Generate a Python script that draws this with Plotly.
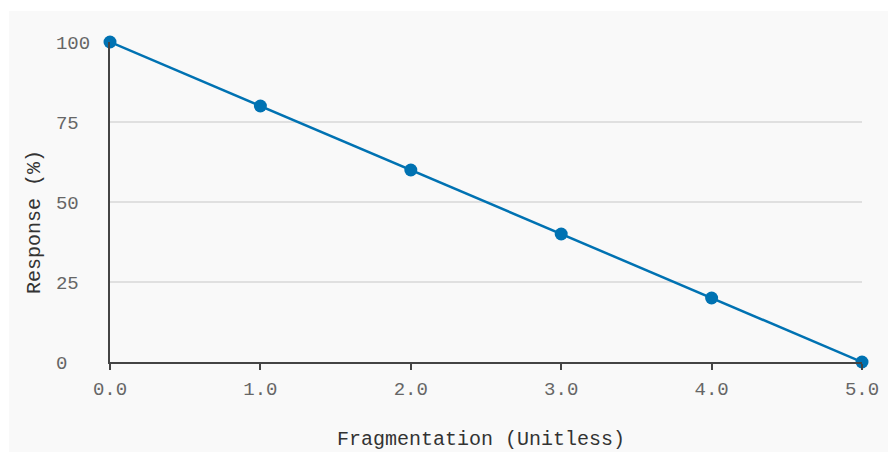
import plotly.graph_objects as go

fragmentation = [0.0, 1.0, 2.0, 3.0, 4.0, 5.0]
response = [100, 80, 60, 40, 20, 0]
x_ticks = [0, 1, 2, 3, 4, 5]
x_tick_labels = ["0.0", "1.0", "2.0", "3.0", "4.0", "5.0"]
y_ticks = [0, 25, 50, 75, 100]
y_tick_labels = ["0", "25", "50", "75", "100"]

FONT = "Liberation Mono, DejaVu Sans Mono, monospace"
OFF = 8  # page body margin
W, H = 888, 444
L, R, T, B = 102, 34, 34, 90
pw, ph = W - L - R, H - T - B

def px_to_paper_x(px):
    return (px - OFF - L) / pw

def px_to_paper_y(py):
    return (H - B - (py - OFF)) / ph

# left-align y tick labels in monospace by padding with non-breaking spaces
width_max = max(len(t) for t in y_tick_labels)
y_tick_text = [t + "\u00a0" * (width_max - len(t)) for t in y_tick_labels]

fig = go.Figure()
fig.add_trace(go.Scatter(
    x=fragmentation, y=response, mode="lines+markers",
    line=dict(color="#0072B2", width=2.5),
    marker=dict(color="#0072B2", size=13),
    cliponaxis=False, showlegend=False,
))

fig.update_layout(
    width=W, height=H,
    margin=dict(l=L, r=R, t=T, b=B, pad=0),
    paper_bgcolor="white",
    plot_bgcolor="#f9f9f9",
    font=dict(family=FONT, size=19, color="#666666"),
    xaxis=dict(
        range=[0, 5], tickvals=x_ticks, ticktext=x_tick_labels,
        showgrid=False, zeroline=False,
        showline=True, linecolor="#444444", linewidth=2,
        ticks="outside", ticklen=6, tickwidth=2, tickcolor="#444444",
        ticklabelstandoff=2,
        tickfont=dict(family=FONT, size=19, color="#666666"),
    ),
    yaxis=dict(
        range=[0, 100], tickvals=y_ticks, ticktext=y_tick_text,
        showgrid=True, gridcolor="#e0e0e0", gridwidth=1.5,
        zeroline=False,
        showline=True, linecolor="#444444", linewidth=2,
        ticks="", ticklabelstandoff=14,
        tickfont=dict(family=FONT, size=19, color="#666666"),
    ),
    shapes=[dict(
        type="rect", xref="paper", yref="paper", layer="below",
        x0=px_to_paper_x(9), x1=px_to_paper_x(900),
        y0=px_to_paper_y(460), y1=px_to_paper_y(11),
        fillcolor="#f9f9f9", line=dict(width=0),
    )],
    annotations=[
        dict(text="Fragmentation (Unitless)", xref="paper", yref="paper",
             x=px_to_paper_x(481), y=px_to_paper_y(439),
             xanchor="center", yanchor="middle", showarrow=False,
             font=dict(family=FONT, size=20, color="#333333")),
        dict(text="Response (%)", xref="paper", yref="paper",
             x=px_to_paper_x(34), y=px_to_paper_y(222), textangle=-90,
             xanchor="center", yanchor="middle", showarrow=False,
             font=dict(family=FONT, size=20, color="#333333")),
    ],
)

fig.write_html("out.html")
